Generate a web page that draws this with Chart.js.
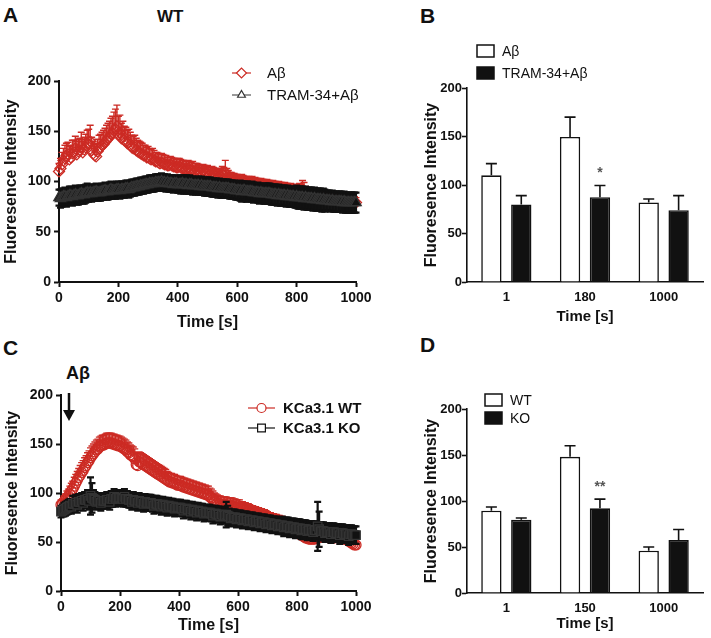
<!DOCTYPE html>
<html><head><meta charset="utf-8">
<script src="https://cdn.jsdelivr.net/npm/chart.js@4.4.0/dist/chart.umd.min.js"></script>
<style>
body{margin:0;background:#fff;width:711px;height:638px;position:relative;overflow:hidden;font-family:'Liberation Sans',Arial,sans-serif}
canvas{position:absolute}
.lbl{position:absolute;font-weight:bold;color:#111;line-height:1}
</style></head><body>
<div class="lbl" style="left:3px;top:4px;font-size:21px">A</div>
<div class="lbl" style="left:157px;top:8px;font-size:17px">WT</div>
<div class="lbl" style="left:420px;top:5px;font-size:21px">B</div>
<div class="lbl" style="left:3px;top:337px;font-size:21px">C</div>
<div class="lbl" style="left:420px;top:334px;font-size:21px">D</div>
<div class="lbl" style="left:66px;top:364px;font-size:18px">Aβ</div>
<svg style="position:absolute;left:62px;top:393px" width="16" height="30"><line x1="7" y1="0" x2="7" y2="20" stroke="#111" stroke-width="2.5"/><polygon points="1,17 13,17 7,28" fill="#111"/></svg>
<canvas id="cA" width="380" height="340" style="left:0;top:0;width:380px;height:340px"></canvas>
<canvas id="cB" width="351" height="340" style="left:360px;top:0;width:351px;height:340px"></canvas>
<canvas id="cC" width="380" height="318" style="left:0;top:320px;width:380px;height:318px"></canvas>
<canvas id="cD" width="351" height="318" style="left:360px;top:320px;width:351px;height:318px"></canvas>
<script>
// ---------- data ----------
const times = [0,5,10,15,20,25,30,35,40,45,50,55,60,65,70,75,80,85,90,95,
 100,105,110,115,120,125,130,135,140,145,150,155,160,165,170,175,180,185,190,195,
 200,205,210,215,220,225,230,235,240,245,250,255,260,265,270,275,280,285,290,295,
 300,305,310,315,320,325,330,335,340,345,350,355,360,365,370,375,380,385,390,395,
 400,405,410,415,420,425,430,435,440,445,450,455,460,465,470,475,480,485,490,495,
 500,505,510,515,520,525,530,535,540,545,550,555,560,565,570,575,580,585,590,595,
 600,605,610,615,620,625,630,635,640,645,650,655,660,665,670,675,680,685,690,695,
 700,705,710,715,720,725,730,735,740,745,750,755,760,765,770,775,780,785,790,795,
 800,805,810,815,820,825,830,835,840,845,850,855,860,865,870,875,880,885,890,895,
 900,905,910,915,920,925,930,935,940,945,950,955,960,965,970,975,980,985,990,995,
 1000];

const aRed = [110,113,117,121,123,126,127,122,124,128,129,133,127,130,131,135,129,132,134,138,
 137,140,131,128,126,125,130,133,134,136,137,139,141,143,144,147,148,151,152,155,
 147,149,143,145,141,140,138,139,136,134,133,134,131,130,129,128,127,126,126,124,
 124,123,122,123,121,120,120,119,118,119,118,117,117,116,116,117,116,115,115,114,
 114,115,114,113,113,112,112,113,112,111,111,110,110,111,110,109,109,110,109,108,
 108,107,107,108,107,106,106,105,106,105,107,106,109,104,104,103,103,102,102,101,
 101,100,100,101,100,99,99,98,99,98,98,97,98,97,97,96,97,96,96,95,
 96,95,95,94,95,94,94,93,94,93,93,92,93,92,92,91,92,91,91,90,
 91,90,92,91,91,90,89,89,88,88,88,87,87,86,86,86,86,85,85,85,
 85,84,84,84,84,83,83,83,83,82,82,82,82,81,81,81,80,80,80,80,
 79];
const aRedErr = [8,10,12,12,13,12,12,13,12,13,12,12,13,12,12,14,13,12,13,13,
 15,16,13,12,12,12,12,13,13,13,14,14,15,15,16,16,17,18,20,21,
 18,17,15,15,14,14,13,13,13,12,12,12,12,11,11,11,11,10,10,10,
 11,10,10,10,10,9,9,9,9,9,9,9,9,8,8,8,8,8,8,8,
 9,8,8,8,8,8,8,8,8,8,9,8,8,7,7,7,7,7,7,7,
 8,7,7,7,7,7,7,7,7,7,8,8,12,9,7,6,6,6,6,6,
 6,6,6,6,6,6,6,6,6,6,7,6,6,6,6,6,6,6,6,6,
 6,6,6,6,6,6,6,6,6,6,6,6,6,6,6,6,6,6,6,6,
 6,6,6,6,10,9,6,5,5,5,5,5,5,5,5,5,5,5,5,5,
 5,5,5,5,5,5,5,5,5,5,5,5,5,5,5,5,5,5,5,5,
 5];
const aBlk = [84,83,84,85,85,84,85,86,86,85,86,87,86,86,87,88,87,87,88,89,
 88,89,88,89,89,90,89,89,89,90,90,91,90,90,91,92,91,91,91,92,
 92,91,92,92,92,93,93,92,93,94,94,94,95,95,95,96,96,96,97,97,
 97,98,98,98,98,99,99,99,99,100,99,99,98,99,98,98,98,97,98,98,
 97,97,97,98,97,97,97,96,97,97,96,96,96,96,96,95,96,95,95,95,
 95,95,95,94,94,94,94,93,94,93,93,93,93,93,93,92,92,92,92,91,
 91,91,91,90,91,91,90,90,90,90,90,89,89,89,89,88,89,88,88,88,
 88,88,88,87,87,87,87,86,87,86,86,86,86,85,86,85,85,85,85,84,
 85,84,84,84,84,83,84,83,83,83,83,82,83,82,82,82,82,81,82,81,
 81,81,81,80,81,80,80,80,80,80,80,79,80,79,79,79,79,79,79,79,
 79];
const aBlkErr = [8,9,9,8,9,9,8,9,9,9,8,9,9,9,9,8,9,9,9,9,
 8,8,8,8,8,8,8,8,8,8,8,8,8,8,8,8,8,8,8,8,
 8,8,8,8,8,8,8,8,8,8,8,8,8,8,8,8,8,8,8,8,
 8,8,8,8,8,8,8,8,8,8,8,8,8,8,8,8,8,8,8,8,
 8,8,9,8,9,8,9,8,9,8,9,8,9,8,9,8,9,8,9,9,
 9,9,9,9,9,9,9,9,9,9,9,9,9,9,9,9,9,9,9,9,
 9,9,10,10,9,9,10,10,9,9,10,10,9,9,10,10,9,9,10,10,
 10,10,10,10,10,10,10,10,10,10,10,10,10,10,10,10,10,10,10,10,
 11,11,11,11,11,11,11,11,11,11,11,11,11,11,11,11,11,11,11,11,
 10,10,10,10,10,10,10,10,10,10,10,10,10,10,10,10,10,10,10,10,
 10];

const cRed = [88,89,91,93,95,97,99,102,104,107,110,113,116,118,121,123,126,128,131,133,
 136,138,140,142,144,145,147,148,149,149,150,151,151,151,151,150,150,149,149,148,
 148,147,146,145,144,142,141,139,138,137,135,129,128,132,131,130,129,128,127,126,
 125,124,123,122,121,120,119,118,117,116,115,114,113,112,111,111,110,110,109,108,
 108,108,107,106,106,105,105,104,104,103,103,102,102,101,101,100,100,99,99,98,
 98,96,95,93,92,91,90,89,89,88,88,88,88,87,87,87,87,86,86,85,
 85,85,84,84,83,83,82,82,81,80,80,79,79,78,78,77,77,76,76,75,
 75,74,74,73,73,72,72,71,71,70,70,69,68,67,66,65,63,62,61,60,
 60,59,58,57,56,55,54,54,53,53,53,53,53,54,54,55,55,55,55,55,
 55,55,54,54,54,54,55,55,55,55,54,54,53,53,52,51,50,49,48,47,
 47];
const cRedErr = [5,5,6,6,7,7,8,8,8,9,9,9,9,10,10,10,10,10,10,10,
 10,10,10,10,10,10,10,10,10,10,10,10,10,10,10,10,10,10,10,10,
 10,10,10,10,10,10,10,10,10,10,10,12,12,10,10,10,10,10,10,10,
 10,10,10,10,10,10,10,10,10,10,10,10,9,9,9,9,9,9,9,9,
 9,9,9,9,9,9,9,9,9,9,9,9,9,9,9,9,9,9,9,9,
 9,9,9,9,8,8,8,8,8,8,8,8,8,8,8,8,8,8,8,8,
 8,8,7,7,7,7,7,7,7,7,7,7,7,7,7,7,7,7,7,7,
 6,6,6,6,6,6,6,6,6,6,6,6,6,6,6,6,6,6,6,6,
 6,6,6,6,6,6,6,6,6,6,6,6,6,6,6,6,6,6,6,6,
 6,6,6,6,6,6,6,6,6,6,6,6,6,6,6,6,6,6,6,6,
 6];
const cBlk = [81,82,83,84,85,86,87,86,89,89,90,88,91,91,92,90,93,93,94,92,
 97,95,94,93,91,92,92,90,92,92,92,93,93,91,94,94,96,94,95,95,
 95,95,94,96,94,94,93,93,91,93,92,92,90,92,91,91,89,91,90,90,
 90,90,89,87,89,89,88,88,86,88,87,87,85,87,86,86,86,84,85,85,
 85,85,84,82,84,84,83,83,81,83,82,82,80,82,81,81,81,79,80,80,
 80,80,79,77,79,79,78,78,76,78,77,77,78,77,76,74,75,75,75,73,
 74,74,74,72,73,73,73,71,72,72,72,70,71,71,71,69,70,70,70,68,
 69,69,69,67,68,68,68,66,67,67,67,65,66,66,66,64,65,65,65,63,
 64,64,64,62,63,63,63,61,62,62,62,60,62,62,66,63,61,61,61,59,
 60,60,60,58,60,60,59,59,59,57,59,59,58,58,58,56,58,58,57,57,
 57];
const cBlkErr = [6,6,7,7,7,7,7,7,8,8,8,8,8,8,8,8,8,8,9,9,
 19,15,9,8,8,8,8,8,8,8,8,8,8,8,8,8,8,8,8,8,
 8,8,8,8,8,8,8,8,8,8,8,8,8,8,8,8,8,8,8,8,
 8,8,8,8,8,8,8,8,8,8,8,8,8,8,8,8,8,8,8,8,
 8,8,8,8,8,8,8,8,8,8,8,8,8,8,8,8,8,8,8,8,
 8,8,8,8,8,8,8,8,8,8,8,8,13,10,8,8,8,8,8,8,
 8,8,8,8,8,8,8,8,8,8,8,8,8,8,8,8,8,8,8,8,
 8,8,8,8,8,8,8,8,8,8,9,9,9,9,9,9,9,9,9,9,
 9,9,9,9,9,9,9,9,9,9,9,9,9,9,25,18,9,9,9,9,
 9,9,9,9,9,9,9,9,9,9,9,9,9,9,9,9,9,9,9,9,
 9];

const bCats = ['1','180','1000'];
const bWhite = [110,149.5,82];
const bWhiteErr = [12,20.5,3.5];
const bBlack = [80,87.5,74];
const bBlackErr = [9,12,15];
const bSig = ['','*',''];

const dCats = ['1','150','1000'];
const dWhite = [89.5,148,46];
const dWhiteErr = [4,12,4];
const dBlack = [79.5,92,57.5];
const dBlackErr = [2,10,11.5];
const dSig = ['','**',''];

const yTickVals = {min:0,max:200,step:50};
const xTickVals = {min:0,max:1000,step:200};

// ---------- style ----------
const RED = '#cc2b24', BLK = '#111111';
const SANS = "'Liberation Sans', Arial, sans-serif";
Chart.defaults.color = '#111';
Chart.defaults.font.family = SANS;

const errPlugin = {
  id:'errs',
  beforeDatasetDraw(chart,args){
    const ds = chart.data.datasets[args.index];
    if(!ds.errors || ds.errKind!=='line') return;
    const ctx = chart.ctx, ys = chart.scales.y;
    ctx.save(); ctx.strokeStyle = ds.errColor; ctx.lineWidth = ds.errWidth;
    args.meta.data.forEach((pt,i)=>{
      const v = ds.data[i].y, e = ds.errors[i];
      const yt = ys.getPixelForValue(v+e), yb = ys.getPixelForValue(ds.errBoth ? v-e : v);
      ctx.beginPath();
      ctx.moveTo(pt.x,yb); ctx.lineTo(pt.x,yt);
      ctx.moveTo(pt.x-3.5,yt); ctx.lineTo(pt.x+3.5,yt);
      if(ds.errBoth){ ctx.moveTo(pt.x-3.5,yb); ctx.lineTo(pt.x+3.5,yb); }
      ctx.stroke();
    });
    ctx.restore();
  },
  afterDatasetDraw(chart,args){
    const ds = chart.data.datasets[args.index];
    if(!ds.errors || ds.errKind!=='bar') return;
    const ctx = chart.ctx, ys = chart.scales.y;
    ctx.save(); ctx.strokeStyle = BLK; ctx.lineWidth = 1.6;
    args.meta.data.forEach((b,i)=>{
      const v = ds.data[i], e = ds.errors[i];
      const yt = ys.getPixelForValue(v+e);
      ctx.beginPath();
      ctx.moveTo(b.x,b.y); ctx.lineTo(b.x,yt);
      ctx.moveTo(b.x-5.5,yt); ctx.lineTo(b.x+5.5,yt);
      ctx.stroke();
      if(ds.sig && ds.sig[i]){
        ctx.fillStyle = '#555'; ctx.font = 'bold 14px '+SANS;
        ctx.textAlign='center'; ctx.textBaseline='middle';
        ctx.fillText(ds.sig[i], b.x, yt-12);
      }
    });
    ctx.restore();
  }
};

const legendPlugin = {
  id:'customLegend',
  afterDraw(chart){
    const o = chart.options.plugins.customLegend;
    if(!o) return;
    const ctx = chart.ctx;
    ctx.save();
    o.items.forEach(it=>{
      if(it.box){
        ctx.fillStyle = it.fill; ctx.strokeStyle = BLK; ctx.lineWidth = 1.5;
        ctx.fillRect(it.x, it.y-6, 17, 12); ctx.strokeRect(it.x, it.y-6, 17, 12);
        ctx.fillStyle = BLK; ctx.font = o.font; ctx.textAlign='left'; ctx.textBaseline='middle';
        ctx.fillText(it.text, it.x+o.textGap, it.y+1);
      } else {
        ctx.strokeStyle = it.lineColor; ctx.lineWidth = 1.2;
        ctx.beginPath(); ctx.moveTo(it.x, it.y); ctx.lineTo(it.x+o.lineLen, it.y); ctx.stroke();
        ctx.fillStyle = '#fff'; ctx.strokeStyle = it.color; ctx.lineWidth = 1.2;
        Chart.helpers.drawPoint(ctx, {pointStyle: it.style, radius: it.r, rotation:0, borderWidth:1.2}, it.x+o.lineLen/2, it.y);
        ctx.fillStyle = BLK; ctx.font = o.font; ctx.textAlign='left'; ctx.textBaseline='middle';
        ctx.fillText(it.text, it.x+o.textGap, it.y+1);
      }
    });
    ctx.restore();
  }
};

function lineAxes(yw, xh, ytPad){
  const grid = {drawOnChartArea:false, drawTicks:true, tickLength:5, tickWidth:2, tickColor:BLK, color:BLK};
  return {
    x:{type:'linear', min:xTickVals.min, max:xTickVals.max,
       ticks:{stepSize:xTickVals.step, font:{size:14, weight:'bold', family:SANS}, color:BLK, padding:3, maxRotation:0, callback:v=>String(v)},
       grid, border:{display:true,color:BLK,width:2},
       title:{display:true, text:'Time [s]', font:{size:16, weight:'bold', family:SANS}, color:BLK, padding:{top:0,bottom:0}},
       afterFit(s){ s.height = xh; s.paddingLeft = 0; s.paddingRight = 0; }},
    y:{min:yTickVals.min, max:yTickVals.max,
       ticks:{stepSize:yTickVals.step, font:{size:14, weight:'bold', family:SANS}, color:BLK, padding:3},
       grid, border:{display:true,color:BLK,width:2},
       title:{display:true, text:'Fluoresence Intensity', font:{size:16, weight:'bold', family:SANS}, color:BLK, padding:{top:ytPad,bottom:0}},
       afterFit(s){ s.width = yw; s.paddingTop = 0; s.paddingBottom = 0; }}
  };
}
function barAxes(xh){
  return {
    x:{type:'category', offset:true,
       ticks:{font:{size:13, weight:'bold', family:SANS}, color:BLK, padding:8},
       grid:{display:false, drawTicks:false}, border:{display:true,color:BLK,width:1.6},
       title:{display:true, text:'Time [s]', font:{size:15, weight:'bold', family:SANS}, color:BLK, padding:{top:0,bottom:0}},
       afterFit(s){ s.height = xh; s.paddingLeft = 0; s.paddingRight = 0; }},
    y:{min:yTickVals.min, max:yTickVals.max,
       ticks:{stepSize:yTickVals.step, font:{size:13, weight:'bold', family:SANS}, color:BLK, padding:0},
       grid:{drawOnChartArea:false, drawTicks:true, tickLength:5, tickWidth:1.6, tickColor:BLK, color:BLK},
       border:{display:true,color:BLK,width:1.6},
       title:{display:true, text:'Fluoresence Intensity', font:{size:16, weight:'bold', family:SANS}, color:BLK, padding:{top:62,bottom:0}},
       afterFit(s){ s.width = 107; s.paddingTop = 0; s.paddingBottom = 0; }}
  };
}
function pts(vals){ return times.map((t,i)=>({x:t, y:vals[i]})); }
function lineDs(label, vals, errs, color, style, r, filled, both, order){
  return {label, data:pts(vals), errors:errs, errKind:'line', errBoth:both, errColor: color, errWidth: filled ? 2.2 : 1.4,
    borderColor:color, borderWidth:1, showLine:true, pointStyle:style, pointRadius:r,
    pointBorderColor: filled ? '#333' : color, pointBorderWidth:1.3, pointBackgroundColor: filled ? color : 'rgba(255,255,255,0)',
    clip:false, order};
}
const baseOpts = {responsive:false, animation:false, devicePixelRatio:1, events:[]};

new Chart(document.getElementById('cA'), {
  type:'scatter',
  data:{datasets:[
    lineDs('Aβ', aRed, aRedErr, RED, 'rectRot', 5.5, false, false, 1),
    lineDs('TRAM-34+Aβ', aBlk, aBlkErr, BLK, 'triangle', 6, true, true, 0)
  ]},
  options:{...baseOpts, layout:{padding:{left:0,right:24,top:81,bottom:8}},
    scales: lineAxes(59, 50, 2),
    plugins:{legend:{display:false}, tooltip:{enabled:false},
      customLegend:{font:'15px '+SANS, lineLen:19, textGap:35, items:[
        {text:'Aβ', x:232, y:73, color:RED, lineColor:RED, style:'rectRot', r:5},
        {text:'TRAM-34+Aβ', x:232, y:95, color:'#333', lineColor:'#555', style:'triangle', r:4.5}
      ]}}},
  plugins:[errPlugin, legendPlugin]
});

new Chart(document.getElementById('cC'), {
  type:'scatter',
  data:{datasets:[
    lineDs('KCa3.1 WT', cRed, cRedErr, RED, 'circle', 5, false, false, 1),
    lineDs('KCa3.1 KO', cBlk, cBlkErr, BLK, 'rect', 6, true, true, 0)
  ]},
  options:{...baseOpts, layout:{padding:{left:0,right:24,top:75,bottom:3}},
    scales: lineAxes(61, 44, 3.4),
    plugins:{legend:{display:false}, tooltip:{enabled:false},
      customLegend:{font:'bold 15px '+SANS, lineLen:27, textGap:35, items:[
        {text:'KCa3.1 WT', x:248, y:88, color:RED, lineColor:RED, style:'circle', r:4.5},
        {text:'KCa3.1 KO', x:248, y:108, color:BLK, lineColor:BLK, style:'rect', r:5.5}
      ]}}},
  plugins:[errPlugin, legendPlugin]
});

function barChart(id, cats, w, we, b, be, sig, xh, padBottom, top, leg){
  return new Chart(document.getElementById(id), {
    type:'bar',
    data:{labels:cats, datasets:[
      {label:leg[0], data:w, errors:we, errKind:'bar', backgroundColor:'#fff', borderColor:BLK, borderWidth:1.6, categoryPercentage:0.76, barPercentage:0.68},
      {label:leg[1], data:b, errors:be, errKind:'bar', sig:sig, backgroundColor:BLK, borderColor:BLK, borderWidth:1.6, categoryPercentage:0.76, barPercentage:0.68}
    ]},
    options:{...baseOpts, layout:{padding:{left:0,right:8,top:top,bottom:padBottom}},
      scales: barAxes(xh),
      plugins:{legend:{display:false}, tooltip:{enabled:false},
        customLegend:{font:'14px '+SANS, textGap:25, items:leg.items}}},
    plugins:[errPlugin, legendPlugin]
  });
}
const legB = ['Aβ','TRAM-34+Aβ']; legB.items = [
  {box:true, fill:'#fff', text:'Aβ', x:117, y:51},
  {box:true, fill:BLK, text:'TRAM-34+Aβ', x:117, y:73}];
const legD = ['WT','KO']; legD.items = [
  {box:true, fill:'#fff', text:'WT', x:125, y:80},
  {box:true, fill:BLK, text:'KO', x:125, y:98}];
barChart('cB', bCats, bWhite, bWhiteErr, bBlack, bBlackErr, bSig, 44, 14, 88, legB);
barChart('cD', dCats, dWhite, dWhiteErr, dBlack, dBlackErr, dSig, 40, 5, 89, legD);
</script>
</body></html>
